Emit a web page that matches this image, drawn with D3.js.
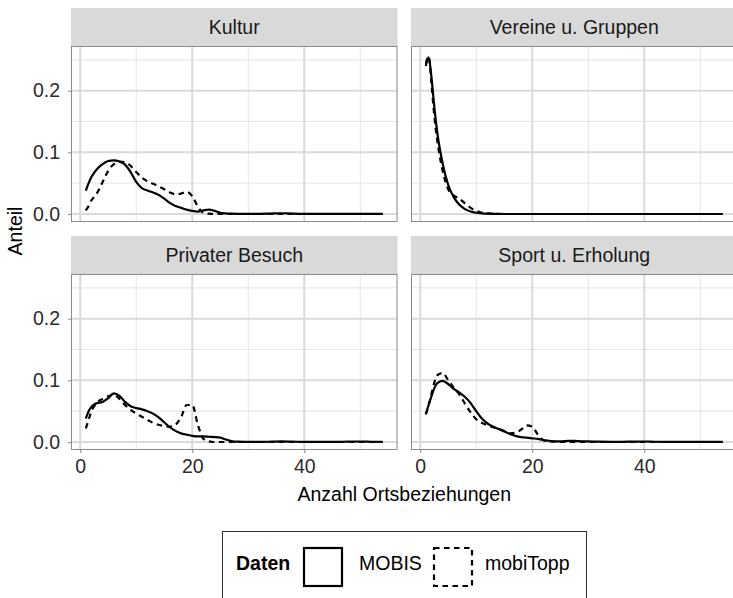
<!DOCTYPE html>
<html>
<head>
<meta charset="utf-8">
<script src="https://cdn.jsdelivr.net/npm/d3@7"></script>
<style>
  html, body { margin: 0; padding: 0; background: #fff; }
  svg { display: block; overflow: hidden; font-family: "Liberation Sans", Arial, sans-serif; }
</style>
</head>
<body>
<svg id="chart" width="733" height="598"></svg>
<script>
// Facets, series and tick values
const facets = ["Kultur", "Vereine u. Gruppen", "Privater Besuch", "Sport u. Erholung"];
const seriesNames = ["MOBIS", "mobiTopp"];
const xTicks = [0, 20, 40];
const xMinor = [10, 30, 50];
const yTicks = [0, 0.1, 0.2];
const yMinor = [0.05, 0.15, 0.25];
const xLimits = [1, 54];
const yLimits = [0, 0.2595];

// Number of place relations (x) at which the shares are given
const xGrid = [1, 1.5, 2, 2.5, 3, 4, 5, 6, 7, 8, 9, 10, 11, 12, 13, 14, 15, 16, 17, 18, 19, 20,
  21, 22, 23, 24, 25, 26, 27, 28, 30, 32, 34, 36, 38, 40, 42, 44, 46, 48, 50, 52, 54];

// Shares per facet: MOBIS and mobiTopp
const kulturMobis = [0.038, 0.050, 0.060, 0.067, 0.073, 0.081, 0.086, 0.087, 0.085, 0.080, 0.068, 0.052,
  0.042, 0.038, 0.035, 0.031, 0.025, 0.018, 0.013, 0.010, 0.007, 0.005, 0.004, 0.006, 0.007, 0.005, 0.002,
  0.001, 0.0005, 0.0003, 0.0002, 0.0003, 0.0008, 0.0012, 0.0006, 0.0002, 0.0001, 0.0001, 0.0001, 0.0001,
  0.0001, 0.0001, 0.0001];
const kulturMobitopp = [0.006, 0.013, 0.022, 0.028, 0.034, 0.052, 0.070, 0.081, 0.085, 0.084, 0.078, 0.068,
  0.059, 0.053, 0.049, 0.045, 0.040, 0.035, 0.032, 0.033, 0.036, 0.029, 0.012, 0.002, 0.0005, 0, 0,
  0, 0, 0, 0, 0, 0, 0, 0, 0, 0, 0, 0, 0, 0, 0, 0];

const vereineMobis = [0.240, 0.254, 0.222, 0.175, 0.135, 0.082, 0.047, 0.027, 0.015, 0.008, 0.004, 0.002,
  0.001, 0.0005, 0.0002, 0.0001, 0, 0, 0, 0, 0, 0, 0, 0, 0, 0, 0, 0, 0, 0, 0, 0, 0, 0, 0, 0, 0, 0, 0, 0,
  0, 0, 0];
const vereineMobitopp = [0.244, 0.256, 0.212, 0.160, 0.122, 0.070, 0.040, 0.030, 0.025, 0.017, 0.010, 0.005,
  0.002, 0.001, 0.0005, 0, 0, 0, 0, 0, 0, 0, 0, 0, 0, 0, 0, 0, 0, 0, 0, 0, 0, 0, 0, 0, 0, 0, 0, 0,
  0, 0, 0];

const privatMobis = [0.038, 0.050, 0.057, 0.061, 0.063, 0.065, 0.071, 0.079, 0.075, 0.065, 0.058, 0.055,
  0.053, 0.050, 0.046, 0.040, 0.032, 0.024, 0.018, 0.014, 0.012, 0.010, 0.009, 0.009, 0.0085, 0.008, 0.007,
  0.004, 0.0015, 0.0005, 0.0003, 0.0002, 0.0005, 0.001, 0.0005, 0.0003, 0.0002, 0.0002, 0.0003, 0.0006,
  0.0008, 0.0004, 0.0002];
const privatMobitopp = [0.022, 0.036, 0.050, 0.058, 0.064, 0.070, 0.074, 0.077, 0.070, 0.060, 0.052, 0.046,
  0.041, 0.036, 0.031, 0.028, 0.026, 0.025, 0.028, 0.040, 0.060, 0.060, 0.028, 0.005, 0.001, 0, 0,
  0, 0, 0, 0, 0, 0, 0, 0, 0, 0, 0, 0, 0, 0, 0, 0];

const sportMobis = [0.045, 0.060, 0.074, 0.087, 0.095, 0.099, 0.094, 0.086, 0.080, 0.073, 0.063, 0.050,
  0.038, 0.030, 0.025, 0.021, 0.017, 0.013, 0.010, 0.008, 0.007, 0.006, 0.005, 0.003, 0.002, 0.001, 0.001,
  0.0015, 0.002, 0.0015, 0.001, 0.0005, 0.0003, 0.0003, 0.0006, 0.0008, 0.0004, 0.0002, 0.0001, 0.0001,
  0.0001, 0.0001, 0.0001];
const sportMobitopp = [0.045, 0.060, 0.078, 0.096, 0.108, 0.112, 0.100, 0.088, 0.077, 0.062, 0.048, 0.037,
  0.031, 0.027, 0.024, 0.021, 0.018, 0.014, 0.015, 0.020, 0.027, 0.025, 0.012, 0.003, 0.001, 0.0005, 0,
  0, 0, 0, 0, 0, 0, 0, 0, 0, 0, 0, 0, 0, 0, 0, 0];

const facetValues = [
  [kulturMobis, kulturMobitopp],
  [vereineMobis, vereineMobitopp],
  [privatMobis, privatMobitopp],
  [sportMobis, sportMobitopp]
];

// Layout
const colLeft = [71, 411];
const panelW = 326.5;
const rowTop = [8, 236];
const stripH = 38;
const panelH = 176;
const fontSize = 19.5;

const svg = d3.select("#chart");

const xPad = (xLimits[1] - xLimits[0]) * 0.05;
const yPad = (yLimits[1] - yLimits[0]) * 0.05;

facets.forEach((name, i) => {
  const col = i % 2, row = Math.floor(i / 2);
  const left = colLeft[col];
  const top = rowTop[row] + stripH;

  const x = d3.scaleLinear().domain([xLimits[0] - xPad, xLimits[1] + xPad]).range([left, left + panelW]);
  const y = d3.scaleLinear().domain([yLimits[0] - yPad, yLimits[1] + yPad]).range([top + panelH, top]);

  const g = svg.append("g");

  // strip
  g.append("rect")
    .attr("x", left).attr("y", rowTop[row])
    .attr("width", panelW).attr("height", stripH)
    .attr("fill", "#D9D9D9");
  g.append("text")
    .attr("x", left + panelW / 2).attr("y", rowTop[row] + stripH / 2)
    .attr("dy", "0.36em")
    .attr("text-anchor", "middle")
    .attr("font-size", fontSize)
    .attr("fill", "#1A1A1A")
    .text(name);

  // panel background
  g.append("rect")
    .attr("x", left).attr("y", top)
    .attr("width", panelW).attr("height", panelH)
    .attr("fill", "#fff");

  // minor grid
  g.selectAll(".vminor").data(xMinor).join("line")
    .attr("x1", d => x(d)).attr("x2", d => x(d))
    .attr("y1", top).attr("y2", top + panelH)
    .attr("stroke", "#E5E5E5").attr("stroke-width", 1);
  g.selectAll(".hminor").data(yMinor).join("line")
    .attr("y1", d => y(d)).attr("y2", d => y(d))
    .attr("x1", left).attr("x2", left + panelW)
    .attr("stroke", "#E5E5E5").attr("stroke-width", 1);
  // major grid
  g.selectAll(".vmajor").data(xTicks).join("line")
    .attr("x1", d => x(d)).attr("x2", d => x(d))
    .attr("y1", top).attr("y2", top + panelH)
    .attr("stroke", "#DADADA").attr("stroke-width", 2);
  g.selectAll(".hmajor").data(yTicks).join("line")
    .attr("y1", d => y(d)).attr("y2", d => y(d))
    .attr("x1", left).attr("x2", left + panelW)
    .attr("stroke", "#DADADA").attr("stroke-width", 2);

  // density lines
  const line = d3.line()
    .x((d, k) => x(xGrid[k]))
    .y(d => y(d))
    .curve(d3.curveMonotoneX);
  facetValues[i].forEach((vals, s) => {
    g.append("path")
      .datum(vals)
      .attr("d", line)
      .attr("fill", "none")
      .attr("stroke", "#000")
      .attr("stroke-width", 2.2)
      .attr("stroke-linejoin", "round")
      .attr("stroke-dasharray", s === 1 ? "5.5,4.5" : null)
      .attr("class", "series-" + seriesNames[s]);
  });

  // panel border
  g.append("rect")
    .attr("x", left + 0.5).attr("y", top + 0.5)
    .attr("width", panelW - 1).attr("height", panelH - 1)
    .attr("fill", "none")
    .attr("stroke", "#8A8A8A").attr("stroke-width", 1);

  // axes
  if (col === 0) {
    const ya = g.append("g")
      .attr("transform", `translate(${left},0)`)
      .call(d3.axisLeft(y).tickValues(yTicks).tickFormat(d3.format(".1f")).tickSize(3).tickPadding(8));
    ya.select(".domain").remove();
    ya.selectAll(".tick line").attr("stroke", "#8A8A8A");
    ya.selectAll(".tick text")
      .attr("font-size", fontSize).attr("font-family", "Liberation Sans, Arial, sans-serif")
      .attr("fill", "#2B2B2B");
  }
  if (row === 1) {
    const xa = g.append("g")
      .attr("transform", `translate(0,${top + panelH})`)
      .call(d3.axisBottom(x).tickValues(xTicks).tickFormat(d3.format("d")).tickSize(3).tickPadding(6));
    xa.select(".domain").remove();
    xa.selectAll(".tick line").attr("stroke", "#8A8A8A");
    xa.selectAll(".tick text")
      .attr("font-size", fontSize).attr("font-family", "Liberation Sans, Arial, sans-serif")
      .attr("fill", "#2B2B2B");
  }
});

// axis titles
const plotMid = (colLeft[0] + colLeft[1] + panelW) / 2;
svg.append("text")
  .attr("x", plotMid).attr("y", 501)
  .attr("text-anchor", "middle")
  .attr("font-size", fontSize)
  .attr("fill", "#000")
  .text("Anzahl Ortsbeziehungen");
svg.append("text")
  .attr("transform", `translate(22,${(rowTop[0] + rowTop[1] + stripH + panelH) / 2 + 2}) rotate(-90)`)
  .attr("text-anchor", "middle")
  .attr("font-size", fontSize)
  .attr("fill", "#000")
  .text("Anteil");

// legend
const lg = svg.append("g");
lg.append("rect")
  .attr("x", 222.5).attr("y", 531.5)
  .attr("width", 364).attr("height", 80)
  .attr("fill", "#fff").attr("stroke", "#333").attr("stroke-width", 1);
lg.append("text")
  .attr("x", 236).attr("y", 570)
  .attr("font-size", fontSize).attr("font-weight", "bold")
  .attr("fill", "#000")
  .text("Daten");
const keyX = [304, 434];
const labelX = [359, 485];
seriesNames.forEach((s, k) => {
  lg.append("rect")
    .attr("x", keyX[k]).attr("y", 548)
    .attr("width", 38).attr("height", 38)
    .attr("fill", "none").attr("stroke", "#000").attr("stroke-width", 2.2)
    .attr("stroke-dasharray", k === 1 ? "5.5,4.5" : null);
  lg.append("text")
    .attr("x", labelX[k]).attr("y", 570)
    .attr("font-size", fontSize)
    .attr("fill", "#000")
    .text(s);
});
</script>
</body>
</html>
